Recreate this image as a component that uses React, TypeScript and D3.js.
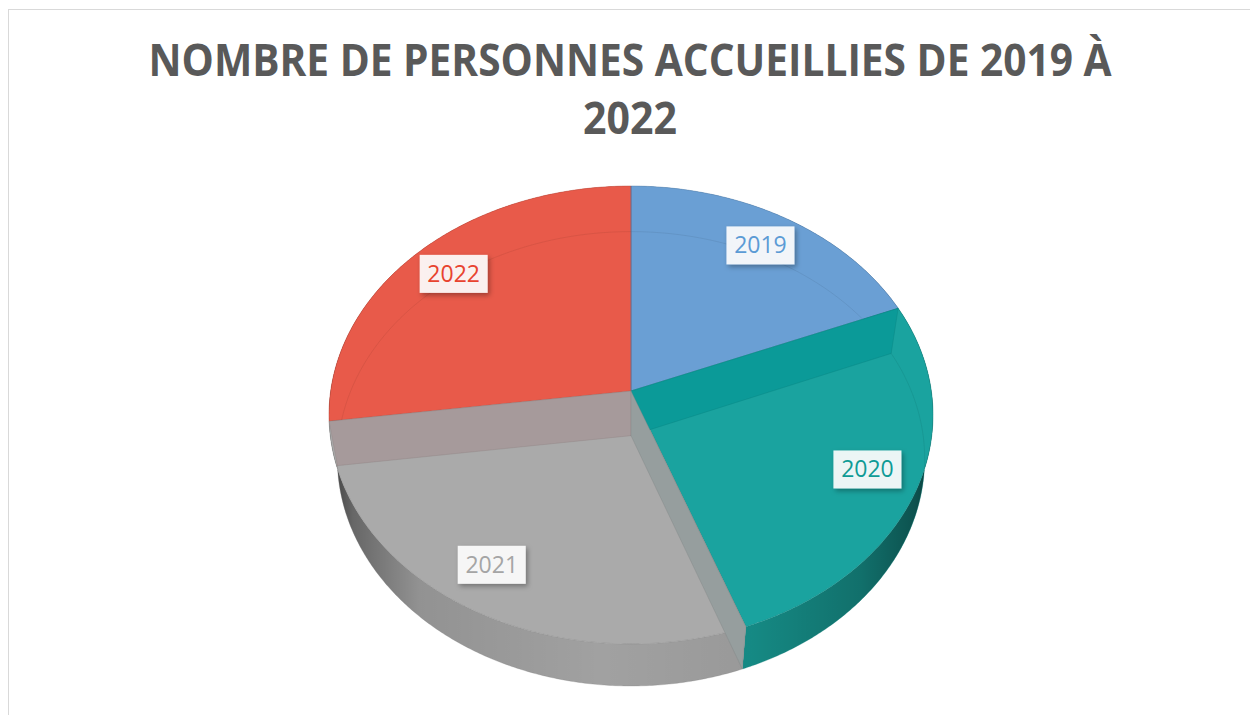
import * as d3 from "d3";

const years = ["2019", "2020", "2021", "2022"];
const counts = [188, 256, 285, 271];

const topColors = ["#6a9fd4", "#1aa39f", "#aaaaaa", "#e85a4a"];
const wallColors = ["#5b8fc2", "#17958f", "#a6a6a6", "#d24e40"];
const sideTints = ["#5e93c8", "#0b9a98", "#969e9e", "#a69a9b"];
const labelColors = ["#5b9bd5", "#0f9b96", "#a5a5a5", "#e8432f"];

const titleLines = ["NOMBRE DE PERSONNES ACCUEILLIES DE 2019 À", "2022"];

// camera for the tilted pie (perspective)
const cam = { cx: 631, cy: 391, f: 1883, d: 6.27, sinE: 0.754, cosE: 0.657 };
const depth = 0.2326;
const labelR = 0.83;

type Pt = [number, number];

const project = (x: number, z: number, y: number): Pt => {
  const Y = y * cam.cosE + z * cam.sinE;
  const Z = z * cam.cosE - y * cam.sinE;
  const k = cam.f / (cam.d + Z);
  return [cam.cx + x * k, cam.cy - Y * k];
};

const onRim = (a: number, y: number, r = 1): Pt =>
  project(r * Math.sin(a), r * Math.cos(a), y);

const arcPts = (a0: number, a1: number, y: number): Pt[] => {
  const n = Math.max(2, Math.ceil((a1 - a0) / (Math.PI / 360)));
  return d3.range(n + 1).map((i) => onRim(a0 + ((a1 - a0) * i) / n, y));
};

const closed = d3.line<Pt>().curve(d3.curveLinearClosed);
const open = d3.line<Pt>();

const App = () => {
  const arcs = d3.pie<number>().sort(null)(counts);

  const apexTop = project(0, 0, 0);
  const apexBot = project(0, 0, -depth);

  const walls = arcs.map((a) => [
    ...arcPts(a.startAngle, a.endAngle, 0),
    ...arcPts(a.startAngle, a.endAngle, -depth).reverse(),
  ]);
  const allX = walls.flat().map((p) => p[0]);
  const [xMin, xMax] = d3.extent(allX) as [number, number];

  const tops = arcs.map((a) => [apexTop, ...arcPts(a.startAngle, a.endAngle, 0)]);
  const bottoms = arcs.map((a) => arcPts(a.startAngle, a.endAngle, -depth));

  const radial = arcs
    .map((a, i) => ({
      i,
      z: Math.cos(a.startAngle),
      pts: [apexTop, onRim(a.startAngle, 0), onRim(a.startAngle, -depth), apexBot] as Pt[],
    }))
    .sort((p, q) => q.z - p.z);

  const labels = arcs.map((a) => onRim((a.startAngle + a.endAngle) / 2, 0, labelR));

  return (
    <svg
      width={1250}
      height={715}
      style={{ position: "absolute", left: 0, top: 0, display: "block" }}
    >
      <defs>
        <linearGradient id="shade" gradientUnits="userSpaceOnUse" x1={xMin} x2={xMax} y1={0} y2={0}>
          <stop offset="0" stopColor="#000" stopOpacity={0.65} />
          <stop offset="0.04" stopColor="#000" stopOpacity={0.38} />
          <stop offset="0.15" stopColor="#000" stopOpacity={0.12} />
          <stop offset="0.45" stopColor="#000" stopOpacity={0.03} />
          <stop offset="0.7" stopColor="#000" stopOpacity={0.08} />
          <stop offset="0.88" stopColor="#000" stopOpacity={0.25} />
          <stop offset="0.97" stopColor="#000" stopOpacity={0.45} />
          <stop offset="1" stopColor="#000" stopOpacity={0.6} />
        </linearGradient>
        <filter id="shadow" x="-30%" y="-30%" width="160%" height="160%">
          <feDropShadow dx="2" dy="2.5" stdDeviation="2.5" floodColor="#000" floodOpacity={0.35} />
        </filter>
      </defs>

      <rect x={8.5} y={9.5} width={1300} height={800} fill="#fff" stroke="#d9d9d9" />

      <g fontFamily="'Open Sans', sans-serif" fontWeight="bold" fill="#595959" textAnchor="middle">
        <text x={630} y={76} fontSize={44} textLength={963} lengthAdjust="spacingAndGlyphs">
          {titleLines[0]}
        </text>
        <text x={630} y={134} fontSize={44} textLength={94} lengthAdjust="spacingAndGlyphs">
          {titleLines[1]}
        </text>
      </g>

      {/* outer walls */}
      {walls.map((w, i) => (
        <g key={"w" + i}>
          <path d={closed(w) ?? ""} fill={wallColors[i]} />
          <path d={closed(w) ?? ""} fill="url(#shade)" />
        </g>
      ))}

      {/* top faces */}
      {tops.map((t, i) => (
        <path
          key={"t" + i}
          d={closed(t) ?? ""}
          fill={topColors[i]}
          stroke={d3.color(topColors[i])?.darker(0.6).formatHex()}
          strokeOpacity={0.6}
          strokeWidth={0.8}
        />
      ))}

      {/* bottom rim seen through */}
      {bottoms.map((b, i) => (
        <path
          key={"b" + i}
          d={open(b) ?? ""}
          fill="none"
          stroke={d3.color(topColors[i])?.darker(0.8).formatHex()}
          strokeOpacity={0.35}
          strokeWidth={0.8}
        />
      ))}

      {/* radial side walls */}
      {radial.map((r) => (
        <path
          key={"r" + r.i}
          d={closed(r.pts) ?? ""}
          fill={sideTints[r.i]}
          stroke={d3.color(sideTints[r.i])?.darker(0.5).formatHex()}
          strokeOpacity={0.5}
          strokeWidth={0.7}
        />
      ))}

      {/* data labels */}
      {labels.map((p, i) => (
        <g key={"l" + i} transform={`translate(${p[0]},${p[1]})`}>
          <rect
            x={-34}
            y={-19}
            width={68}
            height={38}
            fill="#fff"
            fillOpacity={0.9}
            filter="url(#shadow)"
          />
          <text
            y={8}
            textAnchor="middle"
            fontFamily="'Open Sans', sans-serif"
            fontSize={23}
            fill={labelColors[i]}
          >
            {years[i]}
          </text>
        </g>
      ))}
    </svg>
  );
};

export default App;
